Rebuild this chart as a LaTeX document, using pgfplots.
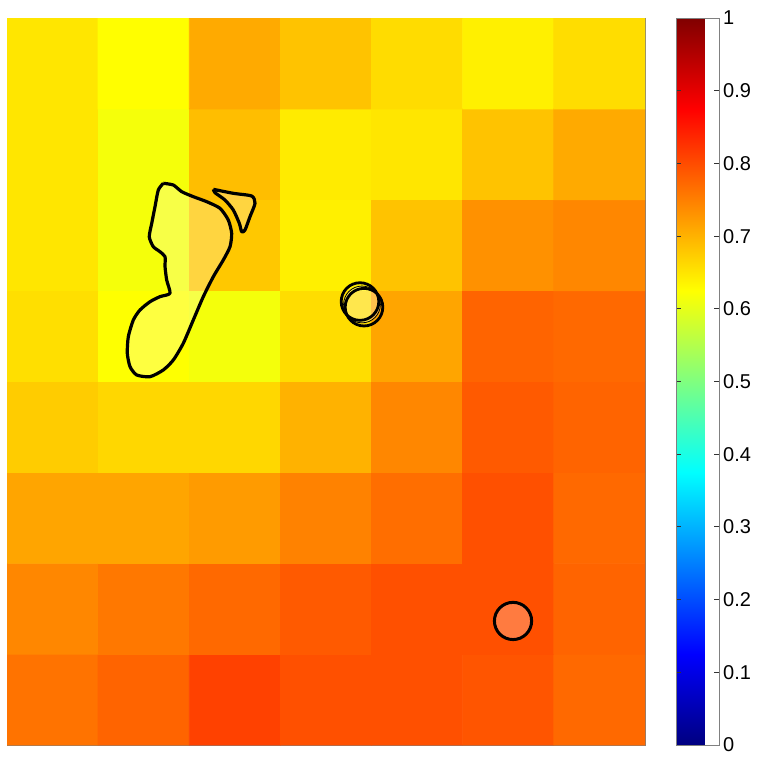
\documentclass[border=0pt]{standalone}
\usepackage{fontspec}
\setmainfont{Liberation Sans}
\usepackage{pgfplots}
\pgfplotsset{compat=1.18}

\begin{document}
\begin{tikzpicture}
\begin{axis}[
  name=main,
  scale only axis,
  width=319pt, height=363.5pt,
  xmin=0, xmax=7, ymin=0, ymax=8,
  xtick=\empty, ytick=\empty,
  axis line style={draw=gray},
  colormap/jet,
  point meta min=0, point meta max=1,
  colorbar,
  colorbar style={
    at={(parent axis.north east)}, anchor=north west, xshift=7pt,
    width=21.5pt,
    ytick={0,0.1,0.2,0.3,0.4,0.5,0.6,0.7,0.8,0.9,1},
    yticklabels={0,0.1,0.2,0.3,0.4,0.5,0.6,0.7,0.8,0.9,1},
    ytick pos=both, yticklabel pos=right,
    tick align=inside,
    major tick length=2.5pt,
    tick style={draw=black!80, line width=0.5pt},
    axis line style={draw=gray},
    yticklabel style={font=\fontsize{10}{10}\selectfont, xshift=-1.5pt},
  },
]
% cell values, bottom row first
\addplot[matrix plot*, mesh/cols=7, point meta=explicit] table[meta=c] {
x y c
0.5 0.5 0.762
1.5 0.5 0.777
2.5 0.5 0.811
3.5 0.5 0.797
4.5 0.5 0.797
5.5 0.5 0.792
6.5 0.5 0.772
0.5 1.5 0.743
1.5 1.5 0.757
2.5 1.5 0.772
3.5 1.5 0.787
4.5 1.5 0.797
5.5 1.5 0.797
6.5 1.5 0.777
0.5 2.5 0.713
1.5 2.5 0.713
2.5 2.5 0.723
3.5 2.5 0.748
4.5 2.5 0.767
5.5 2.5 0.797
6.5 2.5 0.772
0.5 3.5 0.675
1.5 3.5 0.664
2.5 3.5 0.664
3.5 3.5 0.700
4.5 3.5 0.743
5.5 3.5 0.787
6.5 3.5 0.777
0.5 4.5 0.656
1.5 4.5 0.624
2.5 4.5 0.614
3.5 4.5 0.658
4.5 4.5 0.713
5.5 4.5 0.777
6.5 4.5 0.772
0.5 5.5 0.650
1.5 5.5 0.615
2.5 5.5 0.679
3.5 5.5 0.640
4.5 5.5 0.684
5.5 5.5 0.733
6.5 5.5 0.743
0.5 6.5 0.650
1.5 6.5 0.615
2.5 6.5 0.689
3.5 6.5 0.645
4.5 6.5 0.650
5.5 6.5 0.684
6.5 6.5 0.708
0.5 7.5 0.650
1.5 7.5 0.626
2.5 7.5 0.708
3.5 7.5 0.684
4.5 7.5 0.659
5.5 7.5 0.640
6.5 7.5 0.658
};

% outlined regions
\addplot[draw=black, line width=1.6pt, fill=white, fill opacity=0.25, line join=round, smooth, tension=0.4] coordinates {
(1.715,6.181) (1.825,6.162) (1.917,6.089) (2.044,6.034) (2.191,5.979)
(2.337,5.906) (2.428,5.777) (2.465,5.631) (2.447,5.484) (2.373,5.337)
(2.264,5.154) (2.154,4.934) (2.044,4.677) (1.934,4.420) (1.825,4.237)
(1.715,4.127) (1.569,4.053) (1.423,4.072) (1.350,4.163) (1.320,4.310)
(1.331,4.493) (1.386,4.677) (1.459,4.787) (1.569,4.878) (1.679,4.934)
(1.788,4.971) (1.752,5.117) (1.734,5.263) (1.734,5.373) (1.679,5.428)
(1.605,5.484) (1.561,5.593) (1.588,5.741) (1.624,5.924) (1.660,6.107)
(1.715,6.181)
};
\addplot[draw=black, line width=1.6pt, fill=white, fill opacity=0.25, line join=round, smooth, tension=0.4] coordinates {
(2.264,6.115) (2.483,6.071) (2.685,6.041) (2.721,5.961) (2.666,5.814)
(2.611,5.667) (2.575,5.648) (2.549,5.741) (2.483,5.887) (2.392,5.997)
(2.282,6.078) (2.264,6.115)
};
\addplot[only marks, mark=*, mark size=9.2pt,
  mark options={draw=none, fill=white, fill opacity=0.3}] coordinates {(3.895,4.848)};
\addplot[only marks, mark=o, mark size=9.4pt,
  mark options={draw=black, line width=1.4pt}] coordinates {(3.873,4.880) (3.917,4.818)};
\addplot[only marks, mark=*, mark size=9.3pt,
  mark options={draw=black, line width=1.5pt, fill=white, fill opacity=0.25}] coordinates {(5.552,1.365)};
\end{axis}
\pgfresetboundingbox
\path[use as bounding box] ([shift={(-3.5pt,-5.5pt)}]main.south west) rectangle ([shift={(375.5pt,372.5pt)}]main.south west);
\end{tikzpicture}
\end{document}
